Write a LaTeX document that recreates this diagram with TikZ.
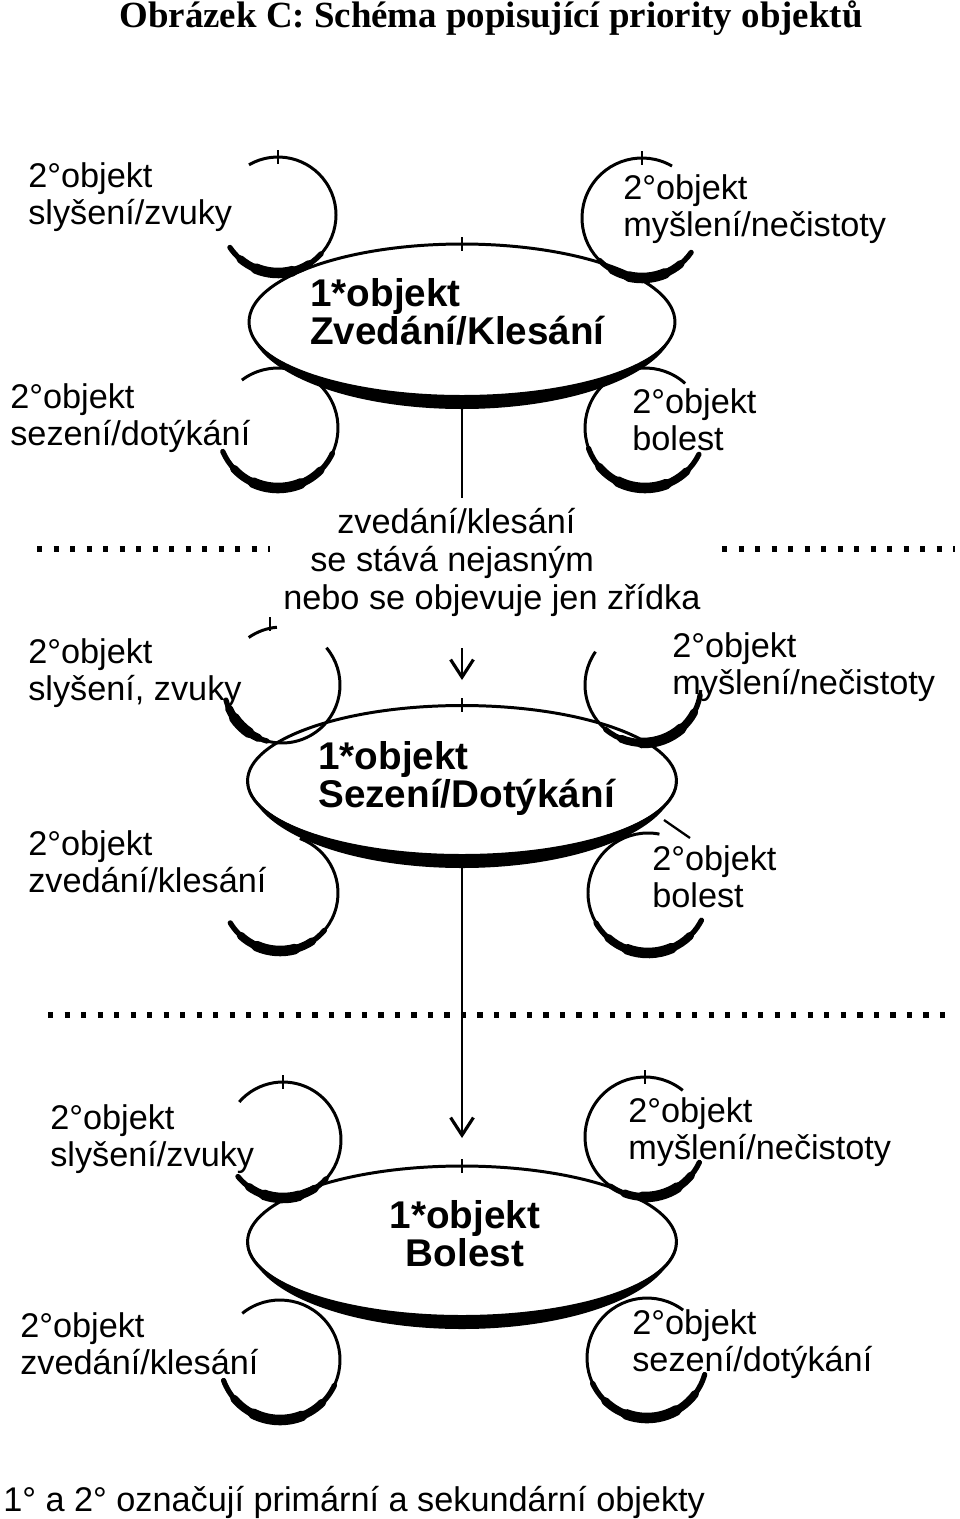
\documentclass[tikz,border=0pt]{standalone}
\usepackage{fontspec}
\setmainfont{Liberation Sans}
\newfontfamily\nadpisfont{Liberation Serif}
\usetikzlibrary{shapes.geometric,arrows.meta}

% smycka: stred x, stred y, polomer, od, do, tezka cast od, do
\newcommand{\smycka}[7]{%
  \draw[line width=1.7pt] (#1,-#2) ++(#4:#3) arc[start angle=#4, end angle=#5, radius=#3];
  \pgfmathsetmacro{\hsA}{(#6)+0.15*((#7)-(#6))}
  \pgfmathsetmacro{\hsB}{(#7)-0.15*((#7)-(#6))}
  \pgfmathsetmacro{\hsC}{(#6)+0.32*((#7)-(#6))}
  \pgfmathsetmacro{\hsD}{(#7)-0.32*((#7)-(#6))}
  \draw[line width=3pt, line cap=round] (#1,-#2) ++(#6:#3) arc[start angle=#6, end angle=#7, radius=#3];
  \draw[line width=4.5pt, line cap=round] (#1,-#2) ++(\hsA:#3) arc[start angle=\hsA, end angle=\hsB, radius=#3];
  \draw[line width=6pt, line cap=round] (#1,-#2) ++(\hsC:#3) arc[start angle=\hsC, end angle=\hsD, radius=#3];
}
\newcommand{\znacka}[2]{\draw[line width=1.3pt] (#1,-#2+7) -- (#1,-#2-7);}
\newcommand{\spodek}[1]{%
  \fill (#1.center) ++(-213,0) arc[start angle=180, end angle=360, x radius=213, y radius=87]
    arc[start angle=0, end angle=-180, x radius=213, y radius=73] -- cycle;}

\tikzset{
  popis/.style={anchor=north west, inner sep=0pt, align=left, font=\fontsize{19.5}{21.5}\selectfont},
  hlavni/.style={anchor=north west, inner sep=0pt, align=left, font=\bfseries\fontsize{22}{21.5}\selectfont},
  objekt/.style={ellipse, draw, line width=1.7pt, fill=white, inner sep=0pt},
  tecky/.style={line width=3pt, dash pattern=on 3pt off 6.4pt},
  spoj/.style={line width=1.2pt},
  sipka/.style={spoj, -{Straight Barb[length=10pt, width=13pt, line width=1.8pt]}},
}

\begin{document}
\begin{tikzpicture}[x=0.02cm, y=0.02cm]
  \useasboundingbox (0,0) rectangle (960,-1519);

  \node[font=\nadpisfont\bfseries\fontsize{21}{24}\selectfont, anchor=base] (nadpis) at (491,-27)
    {Obrázek C: Schéma popisující priority objektů};

  % prvni skupina
  \node[objekt, minimum width=8.52cm, minimum height=3.12cm] (e1) at (462,-322) {};
  \spodek{e1}
  \node[hlavni] (t1) at (310,-278) {1*objekt\\Zvedání/Klesání};
  \smycka{278}{215}{58}{214}{480}{214}{318}
  \smycka{642}{218}{60}{60}{325}{225}{325}
  \smycka{278}{428}{60}{127}{-157}{-25}{-157}
  \smycka{645}{428}{60}{48}{334}{200}{334}
  \znacka{278}{157} \znacka{642}{158} \znacka{462}{244}
  \node[popis] (p1a) at (28,-162) {2°objekt\\slyšení/zvuky};
  \node[popis] (p1b) at (623,-174) {2°objekt\\myšlení/nečistoty};
  \node[popis] (p1c) at (10,-383) {2°objekt\\sezení/dotýkání};
  \node[popis] (p1d) at (632,-388) {2°objekt\\bolest};

  % prechod
  \coordinate (k1) at (462,-498);
  \draw[spoj] (e1) -- (k1);
  \draw[tecky] (37,-549) -- (270,-549);
  \draw[tecky] (722,-549) -- (955,-549);
  \node[popis, anchor=base west] (m1) at (337,-533) {zvedání/klesání};
  \node[popis, anchor=base west] (m2) at (310,-571) {se stává nejasným};
  \node[popis, anchor=base west] (m3) at (283,-609) {nebo se objevuje jen zřídka};
  \coordinate (k2) at (462,-648);
  \coordinate (k3) at (462,-680);
  \draw[sipka] (k2) -- (k3);

  % druha skupina
  \node[objekt, minimum width=8.58cm, minimum height=3.02cm] (e2) at (462,-781) {};
  \spodek{e2}
  \node[hlavni] (t2) at (318,-741) {1*objekt\\Sezení/Dotýkání};
  \draw[line width=1.7pt] (282,-685) ++(95:58) arc[start angle=95, end angle=125, radius=58];
  \smycka{282}{685}{58}{40}{-165}{-105}{-165}
  \smycka{643}{685}{58}{145}{355}{230}{350}
  \smycka{280}{893}{58}{70}{-149}{-40}{-149}
  \smycka{648}{893}{60}{79}{333}{210}{333}
  \znacka{270}{624} \znacka{462}{705}
  \draw[line width=1.3pt] (664,-820) -- (690,-838);
  \node[popis] (p2a) at (28,-638) {2°objekt\\slyšení, zvuky};
  \node[popis] (p2b) at (672,-632) {2°objekt\\myšlení/nečistoty};
  \node[popis] (p2c) at (28,-830) {2°objekt\\zvedání/klesání};
  \node[popis] (p2d) at (652,-845) {2°objekt\\bolest};

  \draw[tecky] (48,-1015) -- (945,-1015);
  \coordinate (k4) at (462,-1138);
  \draw[sipka] (e2) -- (k4);

  % treti skupina
  \node[objekt, minimum width=8.58cm, minimum height=3.04cm] (e3) at (462,-1242) {};
  \spodek{e3}
  \node[hlavni, anchor=north, align=center] (t3) at (465,-1200) {1*objekt\\Bolest};
  \smycka{283}{1140}{58}{219}{499}{219}{318}
  \smycka{645}{1137}{60}{51}{335}{235}{335}
  \smycka{280}{1360}{60}{129}{-160}{-25}{-160}
  \smycka{647}{1358}{60}{53}{344}{205}{344}
  \znacka{283}{1082} \znacka{645}{1077} \znacka{462}{1166}
  \node[popis] (p3a) at (50,-1104) {2°objekt\\slyšení/zvuky};
  \node[popis] (p3b) at (628,-1097) {2°objekt\\myšlení/nečistoty};
  \node[popis] (p3c) at (20,-1312) {2°objekt\\zvedání/klesání};
  \node[popis] (p3d) at (632,-1309) {2°objekt\\sezení/dotýkání};

  \node[popis, anchor=base west] (pozn) at (3,-1511) {1° a 2° označují primární a sekundární objekty};
\end{tikzpicture}
\end{document}
